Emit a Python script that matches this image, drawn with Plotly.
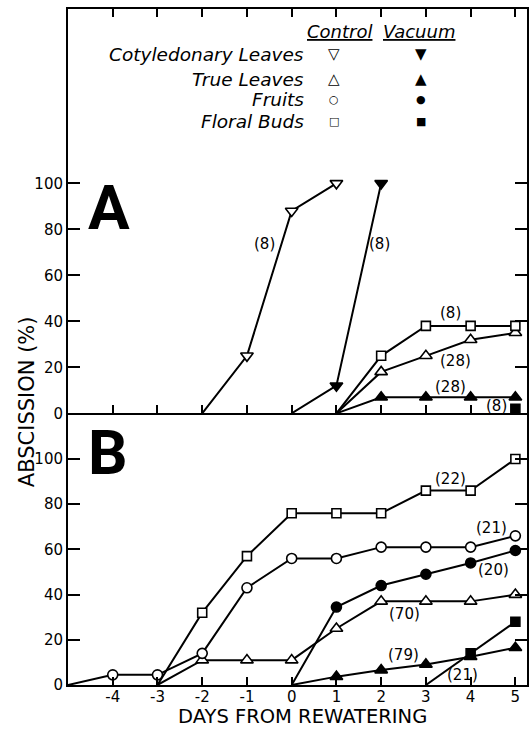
import plotly.graph_objects as go

# ---------------- data ----------------
tick_days = [-4, -3, -2, -1, 0, 1, 2, 3, 4, 5]
tick_text = ["-4", "-3", "-2", "-1", "0", "1", "2", "3", "4", "5"]
y_ticks = [0, 20, 40, 60, 80, 100]
y_tick_text = ["0", "20", "40", "60", "80", "100"]

# Panel A
a_cot_ctrl_x = [-2, -1, 0, 1]
a_cot_ctrl_y = [0, 25, 88, 100]
a_cot_vac_x = [0, 1, 2]
a_cot_vac_y = [0, 12, 100]
a_tl_ctrl_x = [1, 2, 3, 4, 5]
a_tl_ctrl_y = [0, 18, 25, 32, 35]
a_fb_ctrl_x = [1, 2, 3, 4, 5]
a_fb_ctrl_y = [0, 25, 38, 38, 38]
a_tl_vac_x = [1, 2, 3, 4, 5]
a_tl_vac_y = [0, 7, 7, 7, 7]
a_fb_vac_x = [5]
a_fb_vac_y = [2]

# Panel B
b_fb_ctrl_x = [-3, -2, -1, 0, 1, 2, 3, 4, 5]
b_fb_ctrl_y = [0, 32, 57, 76, 76, 76, 86, 86, 100]
b_fr_ctrl_x = [-5, -4, -3, -2, -1, 0, 1, 2, 3, 4, 5]
b_fr_ctrl_y = [0, 4.5, 4.5, 14, 43, 56, 56, 61, 61, 61, 66]
b_tl_ctrl_x = [-3, -2, -1, 0, 1, 2, 3, 4, 5]
b_tl_ctrl_y = [0, 11, 11, 11, 25, 37, 37, 37, 40]
b_fr_vac_x = [0, 1, 2, 3, 4, 5]
b_fr_vac_y = [0, 34.5, 44, 49, 54, 59.5]
b_tl_vac_x = [0, 1, 2, 3, 4, 5]
b_tl_vac_y = [0, 3.7, 6.6, 9.1, 12.5, 16.5]
b_fb_vac_x = [3, 4, 5]
b_fb_vac_y = [0, 14, 28]

# sample-size labels
a_n_text = ["(8)", "(8)", "(8)", "(28)", "(28)", "(8)"]
b_n_text = ["(22)", "(21)", "(20)", "(70)", "(79)", "(21)"]

legend_rows = ["Cotyledonary Leaves", "True Leaves", "Fruits", "Floral Buds"]
ctrl_glyphs = ["\u25BD", "\u25B3", "\u25CB", "\u25A1"]
vac_glyphs = ["\u25BC", "\u25B2", "\u25CF", "\u25A0"]

# ---------------- placement / style ----------------
a_n_pos = [(-0.6, 73.6), (1.97, 73.6), (3.55, 43.5), (3.67, 22.8), (3.55, 11.4), (4.57, 3.2)]
b_n_pos = [(3.55, 91.0), (4.46, 69.5), (4.5, 51.0), (2.53, 31.5), (2.5, 13.1), (3.82, 4.6)]
legend_row_y = [156.2, 145.3, 136.4, 126.7]
legend_head_y = 166.2
legend_text_x = 0.31
ctrl_col_x = 0.95
vac_col_x = 2.88
glyph_sizes = [15, 15, 11, 11]

FONT = "DejaVu Sans"
SPLIT = 0.4019

sym_size = {"triangle-down": 11, "triangle-up": 11, "circle": 10, "square": 9}

fig = go.Figure()


def add_series(x, y, symbol, filled, xa, ya):
    fig.add_trace(go.Scatter(
        x=x, y=y, mode="lines+markers", xaxis=xa, yaxis=ya,
        line=dict(color="black", width=2),
        marker=dict(symbol=symbol, size=sym_size[symbol],
                    color="black" if filled else "white",
                    opacity=[0 if v == 0 else 1 for v in y],
                    line=dict(color="black", width=1.6)),
        showlegend=False, hoverinfo="skip"))


# panel A
add_series(a_cot_ctrl_x, a_cot_ctrl_y, "triangle-down", False, "x", "y")
add_series(a_cot_vac_x, a_cot_vac_y, "triangle-down", True, "x", "y")
add_series(a_tl_vac_x, a_tl_vac_y, "triangle-up", True, "x", "y")
add_series(a_fb_vac_x, a_fb_vac_y, "square", True, "x", "y")
add_series(a_tl_ctrl_x, a_tl_ctrl_y, "triangle-up", False, "x", "y")
add_series(a_fb_ctrl_x, a_fb_ctrl_y, "square", False, "x", "y")

# panel B
add_series(b_tl_vac_x, b_tl_vac_y, "triangle-up", True, "x2", "y2")
add_series(b_fb_vac_x, b_fb_vac_y, "square", True, "x2", "y2")
add_series(b_fr_vac_x, b_fr_vac_y, "circle", True, "x2", "y2")
add_series(b_tl_ctrl_x, b_tl_ctrl_y, "triangle-up", False, "x2", "y2")
add_series(b_fr_ctrl_x, b_fr_ctrl_y, "circle", False, "x2", "y2")
add_series(b_fb_ctrl_x, b_fb_ctrl_y, "square", False, "x2", "y2")

annotations = []
for t, (px, py) in zip(a_n_text, a_n_pos):
    annotations.append(dict(x=px, y=py, xref="x", yref="y", text=t, showarrow=False,
                            xanchor="center", yanchor="middle",
                            font=dict(family=FONT, size=15, color="black")))
for t, (px, py) in zip(b_n_text, b_n_pos):
    annotations.append(dict(x=px, y=py, xref="x2", yref="y2", text=t, showarrow=False,
                            xanchor="center", yanchor="middle",
                            font=dict(family=FONT, size=15, color="black")))

# panel letters
annotations.append(dict(x=-4.09, y=89.7, xref="x", yref="y", text="<b>A</b>", showarrow=False,
                        xanchor="center", yanchor="middle",
                        font=dict(family="Roboto", size=62, color="black")))
annotations.append(dict(x=-4.11, y=103, xref="x2", yref="y2", text="<b>B</b>", showarrow=False,
                        xanchor="center", yanchor="middle",
                        font=dict(family="Roboto", size=62, color="black")))

# legend block
annotations.append(dict(x=1.06, y=legend_head_y, xref="x", yref="y", text="<i><u>Control</u></i>",
                        showarrow=False, xanchor="center", yanchor="middle",
                        font=dict(family=FONT, size=18, color="black")))
annotations.append(dict(x=2.85, y=legend_head_y, xref="x", yref="y", text="<i><u>Vacuum</u></i>",
                        showarrow=False, xanchor="center", yanchor="middle",
                        font=dict(family=FONT, size=18, color="black")))
for name, cg, vg, yy, gs in zip(legend_rows, ctrl_glyphs, vac_glyphs, legend_row_y, glyph_sizes):
    annotations.append(dict(x=legend_text_x, y=yy, xref="x", yref="y", text="<i>" + name + "</i>",
                            xanchor="right", yanchor="middle", showarrow=False,
                            font=dict(family=FONT, size=18.5, color="black")))
    annotations.append(dict(x=ctrl_col_x, y=yy, xref="x", yref="y", text=cg, showarrow=False,
                            xanchor="center", yanchor="middle",
                            font=dict(family=FONT, size=gs, color="black")))
    annotations.append(dict(x=vac_col_x, y=yy, xref="x", yref="y", text=vg, showarrow=False,
                            xanchor="center", yanchor="middle",
                            font=dict(family=FONT, size=gs, color="black")))

# axis titles
annotations.append(dict(x=-0.089, y=0.4186, xref="paper", yref="paper", text="ABSCISSION (%)",
                        textangle=-90, showarrow=False, xanchor="center", yanchor="middle",
                        font=dict(family=FONT, size=21, color="black")))
annotations.append(dict(x=0.51, y=-0.0473, xref="paper", yref="paper", text="DAYS FROM REWATERING",
                        showarrow=False, xanchor="center", yanchor="middle",
                        font=dict(family=FONT, size=19.5, color="black")))

ax_common = dict(showline=True, linecolor="black", linewidth=2, ticks="inside",
                 tickcolor="black", tickwidth=2, showgrid=False, zeroline=False,
                 tickfont=dict(family=FONT, size=15, color="black"))
xr = [-5, 5.26]

fig.update_layout(
    width=532, height=730,
    margin=dict(l=68, r=3, t=9, b=45),
    paper_bgcolor="white", plot_bgcolor="white",
    showlegend=False,
    font=dict(family=FONT, color="black"),
    xaxis=dict(**ax_common, domain=[0, 1], anchor="y", range=xr, tickvals=tick_days,
               ticklen=8, showticklabels=False, mirror="ticks"),
    yaxis=dict(**ax_common, domain=[SPLIT, 1], anchor="x", range=[0, 175.8],
               tickvals=y_ticks, ticktext=y_tick_text, ticklen=12, mirror="ticks"),
    xaxis2=dict(**ax_common, domain=[0, 1], anchor="y2", range=xr, tickvals=tick_days,
                ticktext=tick_text, ticklen=8, ticklabelstandoff=-3),
    yaxis2=dict(**ax_common, domain=[0, SPLIT], anchor="x2", range=[0, 120.2],
                tickvals=y_ticks, ticktext=y_tick_text, ticklen=12, mirror="ticks"),
    annotations=annotations,
)

fig.write_html("out.html")
